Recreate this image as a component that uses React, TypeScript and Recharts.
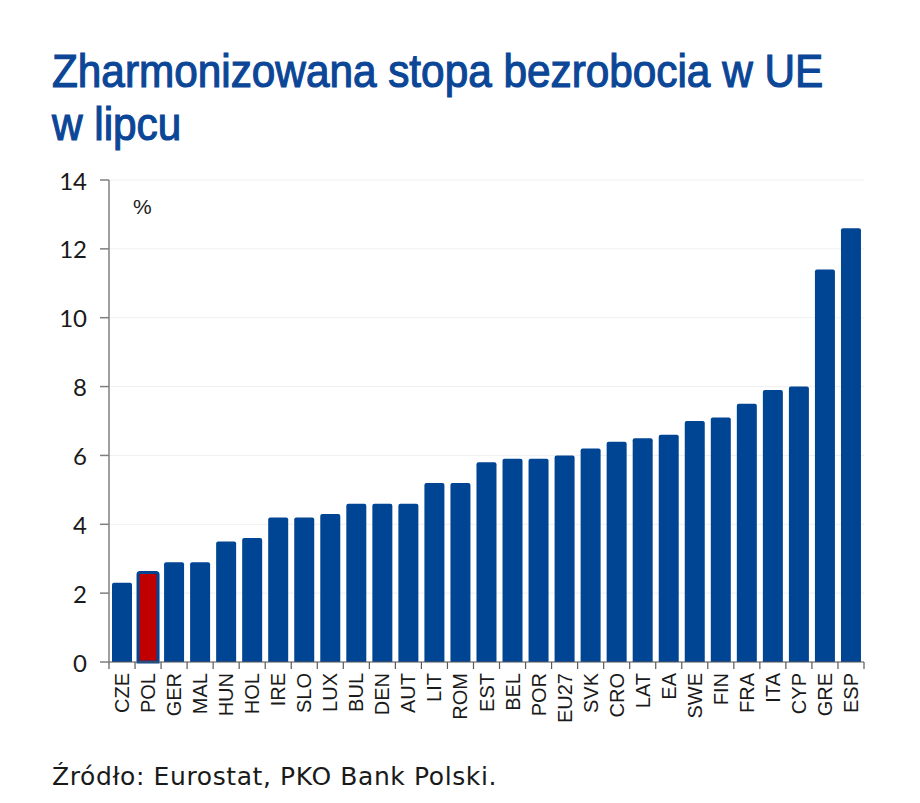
import React from "react";
import { BarChart, Bar, XAxis, YAxis, CartesianGrid, Cell } from "recharts";

const countries = ["CZE","POL","GER","MAL","HUN","HOL","IRE","SLO","LUX","BUL","DEN","AUT","LIT","ROM","EST","BEL","POR","EU27","SVK","CRO","LAT","EA","SWE","FIN","FRA","ITA","CYP","GRE","ESP"];
const rates = [2.3,2.6,2.9,2.9,3.5,3.6,4.2,4.2,4.3,4.6,4.6,4.6,5.2,5.2,5.8,5.9,5.9,6.0,6.2,6.4,6.5,6.6,7.0,7.1,7.5,7.9,8.0,11.4,12.6];
const yTicks = [0,2,4,6,8,10,12,14];
const highlight = "POL";
const titleLines = ["Zharmonizowana stopa bezrobocia w UE", "w lipcu"];
const sourceText = "Źródło: Eurostat, PKO Bank Polski.";

const data = countries.map((c, i) => ({ country: c, value: rates[i] }));

const BLUE = "#004494";
const RED = "#C00000";

const CHART_W = 920;
const CHART_H = 803;
const M = { top: 180, right: 56, bottom: 81, left: 49 };
const Y_W = 60;
const PLOT_W = CHART_W - M.left - M.right - Y_W;
const BAND = PLOT_W / countries.length;

const XTick = (props: any) => {
  const { x, y, payload, index } = props;
  const last = index === countries.length - 1;
  return (
    <g>
      <line x1={x - BAND / 2} x2={x - BAND / 2} y1={y - 10} y2={y - 3} stroke="#595959" strokeWidth={1.2} />
      {last && (
        <line x1={x + BAND / 2} x2={x + BAND / 2} y1={y - 10} y2={y - 3} stroke="#595959" strokeWidth={1.2} />
      )}
      <text
        transform={`translate(${x + 7},${y + 1}) rotate(-90)`}
        textAnchor="end"
        fontFamily="Liberation Sans, Arial, sans-serif"
        fontSize={20}
        fill="#1a1a1a"
      >
        {payload.value}
      </text>
    </g>
  );
};

const titleStyle: React.CSSProperties = {
  position: "absolute",
  left: 52,
  fontFamily: "Liberation Sans, Arial, sans-serif",
  fontSize: 47,
  fontWeight: 400,
  lineHeight: "53px",
  color: "#0B4697",
  whiteSpace: "nowrap",
  transform: "scaleX(0.9)",
  transformOrigin: "left top",
  WebkitTextStroke: "1.2px #0B4697",
};

export default function App() {
  return (
    <div style={{ position: "absolute", left: 0, top: 0, width: CHART_W, height: CHART_H, background: "#fff" }}>
      <div style={{ ...titleStyle, top: 44 }}>{titleLines[0]}</div>
      <div style={{ ...titleStyle, top: 97 }}>{titleLines[1]}</div>
      <div
        style={{
          position: "absolute",
          left: 133,
          top: 195,
          fontFamily: "Liberation Sans, Arial, sans-serif",
          fontSize: 21,
          color: "#1a1a1a",
        }}
      >
        %
      </div>
      <div style={{ position: "absolute", left: 0, top: 0 }}>
        <BarChart width={CHART_W} height={CHART_H} data={data} margin={M} barSize={20}>
          <CartesianGrid vertical={false} stroke="#efefef" />
          <XAxis
            dataKey="country"
            interval={0}
            tickLine={false}
            axisLine={{ stroke: "#595959", strokeWidth: 1.2 }}
            tick={<XTick />}
            tickSize={0}
            tickMargin={10}
            height={60}
          />
          <YAxis
            domain={[0, 14]}
            ticks={yTicks}
            width={Y_W}
            axisLine={{ stroke: "#7f7f7f", strokeWidth: 1.5 }}
            tickLine={{ stroke: "#7f7f7f", strokeWidth: 1.5 }}
            tickSize={9}
            tickMargin={13}
            tick={{ fontFamily: "Lato, sans-serif", fontSize: 24, fill: "#1a1a1a", dy: 1 }}
          />
          <Bar dataKey="value" isAnimationActive={false} radius={[2, 2, 0, 0]}>
            {data.map((d) => (
              <Cell
                key={d.country}
                fill={d.country === highlight ? RED : BLUE}
                stroke={d.country === highlight ? BLUE : "none"}
                strokeWidth={d.country === highlight ? 3 : 0}
              />
            ))}
          </Bar>
        </BarChart>
      </div>
      <div
        style={{
          position: "absolute",
          left: 52,
          top: 762,
          fontFamily: "DejaVu Sans, sans-serif",
          fontSize: 25,
          letterSpacing: 0.6,
          color: "#1a1a1a",
          whiteSpace: "nowrap",
        }}
      >
        {sourceText}
      </div>
    </div>
  );
}
